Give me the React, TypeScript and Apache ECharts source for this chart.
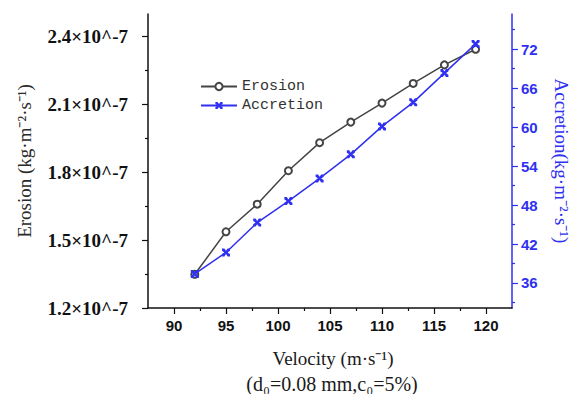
import React, { useEffect, useRef } from "react";
import * as echarts from "echarts";

const velocity = [92, 95, 98, 101, 104, 107, 110, 113, 116, 119];
// Erosion in units of 10^-7 kg·m^-2·s^-1
const erosion = [1.349, 1.537, 1.659, 1.807, 1.931, 2.022, 2.106, 2.193, 2.275, 2.344];
const accretion = [37.4, 40.7, 45.3, 48.6, 52.1, 55.8, 60.1, 63.8, 68.3, 72.8];
const xTicks = [90, 95, 100, 105, 110, 115, 120];
const xMinor = [92.5, 97.5, 102.5, 107.5, 112.5, 117.5];
const leftTicks = [1.2, 1.5, 1.8, 2.1, 2.4];
const leftMinor = [1.35, 1.65, 1.95, 2.25];
const rightTicks = [36, 42, 48, 54, 60, 66, 72];
const rightMinor = [33, 39, 45, 51, 57, 63, 69, 75];

const BLUE = "#3030f0";
const DARK = "#111";
const X_SYMBOL =
  "path://M0,0 L3,0 L5,3 L7,0 L10,0 L10,3 L7,5 L10,7 L10,10 L7,10 L5,7 L3,10 L0,10 L0,7 L3,5 L0,3 Z";

export default function App() {
  const ref = useRef<HTMLDivElement>(null);
  useEffect(() => {
    const chart = echarts.init(ref.current!, null, { renderer: "svg" });
    const minorTickAxis = (pos: string, min: number, max: number, vals: number[], color: string) => ({
      type: "value",
      position: pos,
      min,
      max,
      axisLine: { show: false },
      axisTick: { show: true, customValues: vals, length: 3, lineStyle: { color, width: 1.2 } },
      axisLabel: { show: false },
      splitLine: { show: false },
    });
    chart.setOption({
      animation: false,
      backgroundColor: "#fff",
      grid: { left: 148, right: 59, top: 14, bottom: 86, containLabel: false, outerBoundsMode: "none" },
      legend: {
        data: ["Erosion", "Accretion"],
        orient: "vertical",
        left: 195,
        top: 74,
        itemWidth: 36,
        itemHeight: 9,
        itemGap: 4,
        textStyle: { fontFamily: "Liberation Mono", fontSize: 15, color: "#333" },
      },
      xAxis: [
        {
          type: "value",
          position: "bottom",
          min: 87.5,
          max: 122.5,
          axisLine: { show: true, lineStyle: { color: DARK, width: 1.5 } },
          axisTick: { show: true, customValues: xTicks, length: 6, lineStyle: { color: DARK, width: 1.2 } },
          axisLabel: {
            customValues: xTicks,
            fontFamily: "Liberation Sans",
            fontWeight: "bold",
            fontSize: 15,
            color: DARK,
            margin: 10,
          },
          splitLine: { show: false },
        },
        minorTickAxis("bottom", 87.5, 122.5, xMinor, DARK),
      ],
      yAxis: [
        {
          type: "value",
          position: "left",
          min: 1.2,
          max: 2.5,
          axisLine: { show: true, lineStyle: { color: DARK, width: 1.5 } },
          axisTick: { show: true, customValues: leftTicks, length: 6, lineStyle: { color: DARK, width: 1.2 } },
          axisLabel: {
            customValues: leftTicks,
            formatter: (v: number) => v.toFixed(1) + "×10^-7",
            fontFamily: "Liberation Serif",
            fontWeight: "bold",
            fontSize: 19,
            color: DARK,
            margin: 20,
          },
          splitLine: { show: false },
          name: "Erosion (kg·m⁻²·s⁻¹)",
          nameLocation: "middle",
          nameGap: 114,
          nameRotate: 90,
          nameTextStyle: { fontFamily: "Liberation Serif", fontSize: 19, color: "#2a2a2a" },
        },
        {
          type: "value",
          position: "right",
          min: 32.15,
          max: 77.4,
          axisLine: { show: true, lineStyle: { color: BLUE, width: 1.5 } },
          axisTick: { show: true, customValues: rightTicks, length: 6, lineStyle: { color: BLUE, width: 1.2 } },
          axisLabel: {
            customValues: rightTicks,
            fontFamily: "Liberation Sans",
            fontWeight: "bold",
            fontSize: 15,
            color: BLUE,
            margin: 9,
          },
          splitLine: { show: false },
          name: "Accretion(kg·m⁻²·s⁻¹)",
          nameLocation: "middle",
          nameGap: 40,
          nameRotate: -90,
          nameTextStyle: { fontFamily: "Liberation Serif", fontSize: 19, color: BLUE },
        },
        minorTickAxis("left", 1.2, 2.5, leftMinor, DARK),
        minorTickAxis("right", 32.15, 77.4, rightMinor, BLUE),
      ],
      graphic: [
        {
          type: "text",
          x: 333,
          y: 358,
          style: {
            text: "Velocity (m·s⁻¹)",
            fontFamily: "Liberation Serif",
            fontSize: 19,
            fill: "#1a1a1a",
            align: "center",
            verticalAlign: "middle",
          },
        },
        {
          type: "text",
          x: 332,
          y: 384,
          style: {
            text: "(d₀=0.08 mm,c₀=5%)",
            fontFamily: "Liberation Serif",
            fontSize: 20,
            fill: "#1a1a1a",
            align: "center",
            verticalAlign: "middle",
          },
        },
      ],
      series: [
        {
          name: "Erosion",
          type: "line",
          xAxisIndex: 0,
          yAxisIndex: 0,
          data: velocity.map((v, i) => [v, erosion[i]]),
          symbol: "emptyCircle",
          symbolSize: 7,
          lineStyle: { color: "#444", width: 1.5 },
          itemStyle: { color: "#444", borderWidth: 1.2 },
        },
        {
          name: "Accretion",
          type: "line",
          xAxisIndex: 0,
          yAxisIndex: 1,
          data: velocity.map((v, i) => [v, accretion[i]]),
          symbol: X_SYMBOL,
          symbolSize: 8,
          lineStyle: { color: BLUE, width: 1.5 },
          itemStyle: { color: BLUE },
        },
      ],
    });
    return () => chart.dispose();
  }, []);
  return (
    <div
      ref={ref}
      style={{ position: "fixed", left: 0, top: 0, width: 571, height: 394, background: "#fff" }}
    />
  );
}
